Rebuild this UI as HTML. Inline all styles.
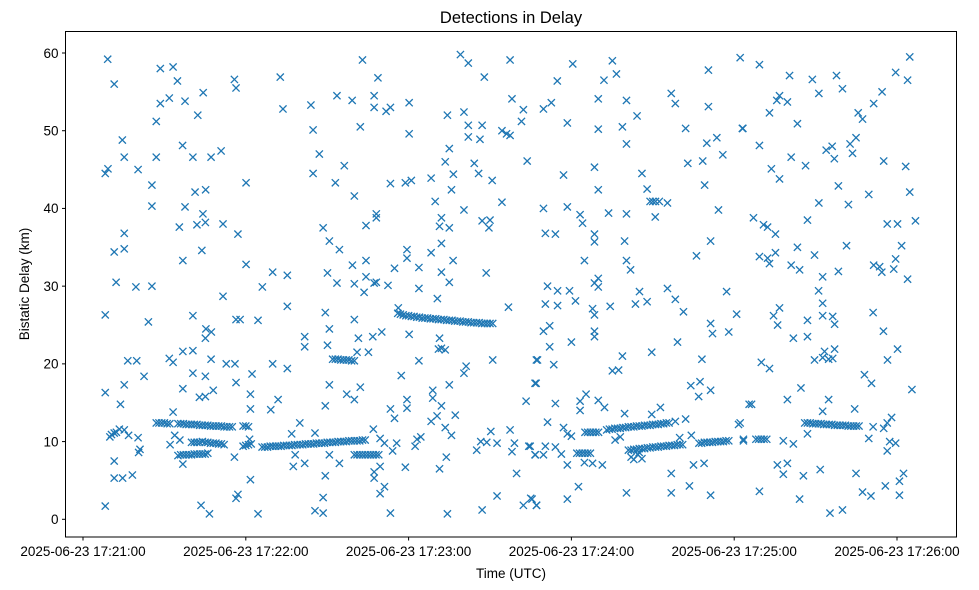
<!DOCTYPE html>
<html><head><meta charset="utf-8"><style>
html,body{margin:0;padding:0;background:#fff;}
svg{display:block;font-family:"Liberation Sans","DejaVu Sans",sans-serif;}
</style></head><body>
<svg id="chart" width="979" height="590" viewBox="0 0 979 590">
<rect x="0" y="0" width="979" height="590" fill="#fff"/>
<text x="511" y="23" font-size="16.5" text-anchor="middle" fill="#000">Detections in Delay</text>
<g id="marks"></g>
<g id="yaxis"></g>
<g id="xaxis"></g>
<rect x="65.5" y="31.5" width="891" height="505.5" fill="none" stroke="#000" stroke-width="1"/>
<text x="511" y="578" font-size="13.5" text-anchor="middle">Time (UTC)</text>
<text x="0" y="0" font-size="13.5" text-anchor="middle" transform="translate(29,284) rotate(-90)">Bistatic Delay (km)</text>
</svg>
<script>
const yTicks = [0,10,20,30,40,50,60];
const xTickSeconds = [0,60,120,180,240,300];
const xTickLabels = ["2025-06-23 17:21:00","2025-06-23 17:22:00","2025-06-23 17:23:00","2025-06-23 17:24:00","2025-06-23 17:25:00","2025-06-23 17:26:00"];
const scatterPoints = [
[9.1,59.2],[11.5,56.0],[28.5,58.0],[33.2,58.2],[34.8,56.4],[55.8,56.6],[56.4,55.5],[72.7,56.9],[73.7,52.8],[28.5,53.5],[31.8,54.2],[37.6,53.8],[44.3,54.9],[27.0,51.2],[42.3,52.0],[14.5,48.8],[15.2,46.6],[27.0,46.6],[36.7,48.1],[40.5,46.6],[47.2,46.6],[50.9,47.4],[8.2,44.5],[9.2,45.1],[20.3,45.0],[25.4,43.0],[25.4,40.3],[37.6,40.2],[41.3,42.1],[45.2,42.4],[60.1,43.3],[44.2,39.3],[45.1,38.2],[42.0,37.9],[35.5,37.6],[51.6,38.0],[57.1,36.7],[15.2,36.8],[11.5,34.4],[15.2,34.8],[43.8,34.6],[36.8,33.3],[60.1,32.8],[69.9,31.8],[75.3,31.4],[66.1,29.9],[12.2,30.5],[19.5,29.9],[25.4,30.0],[51.6,28.7],[75.3,27.4],[8.2,26.3],[24.1,25.4],[40.5,26.2],[56.4,25.7],[57.9,25.7],[64.5,25.6],[45.3,24.5],[47.3,24.1],[45.1,23.3],[16.5,20.4],[19.8,20.4],[31.8,20.7],[33.2,20.2],[36.8,21.6],[40.5,21.7],[47.2,20.6],[52.8,20.0],[56.0,20.0],[69.9,20.0],[75.3,19.4],[22.5,18.4],[15.2,17.3],[40.5,18.8],[45.1,18.4],[62.3,18.7],[8.2,16.3],[36.8,16.8],[42.9,15.7],[45.1,15.8],[48.0,16.6],[56.4,17.6],[61.7,16.1],[13.8,14.8],[61.7,14.2],[69.2,14.1],[71.9,15.4],[33.2,13.8],[8.2,1.7],[43.5,1.8],[46.6,0.7],[56.4,2.7],[57.1,3.2],[64.5,0.7],[61.7,5.1],[11.5,7.5],[11.5,5.3],[14.6,5.3],[18.2,5.7],[36.8,7.1],[55.8,8.0],[20.5,8.6],[21.0,9.0],[77.5,6.8],[78.2,8.3],[9.9,10.6],[11.5,11.1],[13.4,11.6],[15.2,11.5],[16.8,10.8],[20.3,10.5],[33.8,10.8],[32.1,9.6],[35.7,10.2],[79.9,12.4],[76.9,11.0],[61.4,10.3],[59.0,9.4],[10.5,10.9],[12.3,11.2],
[103.0,59.1],[108.7,56.8],[84.0,53.3],[93.6,54.5],[99.2,53.9],[107.3,54.5],[107.3,53.0],[111.7,52.5],[113.3,53.0],[120.2,53.6],[102.2,50.5],[120.2,49.6],[84.8,50.1],[87.1,47.0],[84.8,44.5],[96.3,45.5],[93.0,43.3],[100.0,41.6],[108.1,39.3],[108.1,38.8],[104.3,37.8],[88.5,37.5],[90.8,35.8],[94.5,34.7],[99.3,32.7],[104.3,33.3],[90.1,31.7],[93.6,30.4],[100.0,30.3],[104.3,31.2],[103.6,29.2],[108.1,30.5],[107.3,30.4],[112.4,30.1],[114.8,32.3],[119.4,34.7],[119.4,33.6],[123.8,32.4],[123.8,29.7],[113.3,43.2],[118.8,43.3],[121.0,43.6],[128.3,43.9],[129.8,40.9],[132.1,38.8],[131.4,37.7],[135.0,37.5],[132.1,35.5],[128.3,34.3],[136.4,33.3],[132.1,31.8],[135.0,30.5],[130.6,28.4],[134.3,52.0],[135.0,47.7],[133.5,46.0],[136.5,44.4],[135.8,42.4],[140.4,52.4],[142.0,50.7],[142.0,49.2],[146.3,48.9],[147.1,50.7],[139.1,59.8],[142.0,58.7],[147.9,56.9],[157.4,59.1],[158.1,54.1],[162.3,52.7],[161.6,51.2],[154.4,50.0],[157.4,49.4],[156.1,49.6],[163.7,46.1],[144.2,45.8],[145.8,44.5],[150.8,43.6],[154.4,40.8],[140.4,39.8],[147.1,38.4],[150.0,38.5],[149.6,37.5],[148.6,31.7],[156.8,27.3],[81.7,23.5],[81.7,22.2],[89.3,26.6],[90.8,24.5],[90.1,22.4],[100.0,25.7],[101.5,23.3],[106.8,23.5],[110.1,24.1],[101.0,21.5],[105.2,21.5],[123.8,20.4],[120.2,23.8],[131.4,23.3],[132.1,22.0],[133.5,21.8],[151.0,20.5],[140.4,18.8],[141.2,19.7],[117.3,18.5],[90.8,17.3],[102.2,17.0],[97.2,16.1],[100.0,15.4],[89.3,14.6],[113.3,14.2],[114.8,13.0],[119.4,15.4],[119.4,14.3],[128.9,16.6],[128.9,15.6],[132.1,14.6],[130.5,13.3],[135.0,17.3],[137.2,13.4],[128.3,12.6],[133.5,11.8],[135.8,10.8],[167.0,17.5],[163.3,15.2],[167.1,20.5],[85.5,11.1],[107.0,11.6],[109.5,10.4],[90.8,8.3],[94.5,7.2],[81.7,7.2],[89.3,5.6],[107.3,6.1],[107.3,5.3],[109.5,6.8],[109.5,3.3],[111.1,4.2],[88.5,2.8],[85.5,1.1],[88.5,0.8],[113.3,0.8],[111.1,9.8],[114.1,8.8],[115.6,9.8],[118.8,6.7],[123.1,10.3],[122.4,9.4],[124.5,10.6],[133.9,8.0],[131.4,6.5],[134.3,0.7],[145.1,8.9],[146.6,10.0],[148.8,9.9],[150.3,11.3],[152.6,9.8],[157.4,11.5],[159.0,9.8],[158.1,8.7],[159.8,5.9],[164.3,9.4],[166.7,8.3],[152.6,3.0],[147.1,1.2],[162.3,1.8],[165.0,2.7],[167.1,1.8],[116.2,27.2],[131.0,21.9],
[180.5,58.6],[195.1,59.0],[196.6,57.3],[174.8,56.4],[192.0,56.5],[169.7,52.8],[172.6,53.6],[189.9,54.1],[200.3,53.9],[204.2,51.9],[178.5,51.0],[189.9,50.2],[198.8,50.5],[200.3,48.3],[216.8,54.8],[218.3,53.5],[230.5,57.8],[230.5,53.1],[242.2,59.4],[222.1,50.3],[243.0,50.3],[229.9,48.4],[233.6,49.1],[235.8,46.9],[222.9,45.8],[228.4,46.1],[229.1,43.0],[177.1,44.3],[188.5,45.3],[189.9,42.4],[206.0,44.5],[207.9,42.5],[209.0,40.9],[210.0,40.9],[211.0,40.9],[212.4,40.9],[215.4,40.7],[210.9,38.9],[169.7,40.0],[178.5,40.2],[183.2,39.2],[184.1,38.1],[193.7,39.4],[200.3,39.3],[234.2,39.8],[170.4,36.8],[174.1,36.7],[188.5,36.7],[188.5,35.7],[199.6,35.8],[231.3,35.8],[226.1,33.9],[184.8,33.3],[200.3,33.3],[201.8,32.1],[171.2,30.0],[174.9,29.4],[179.3,29.4],[181.5,28.1],[170.4,27.7],[174.9,27.5],[188.5,30.4],[189.9,31.0],[189.9,29.9],[187.8,27.1],[188.5,26.3],[194.3,27.4],[205.1,29.3],[203.6,27.7],[207.9,28.0],[215.4,29.7],[218.3,28.3],[221.3,26.7],[237.2,29.3],[240.9,26.4],[169.7,24.2],[172.0,24.9],[172.0,22.2],[180.0,22.8],[188.5,24.2],[188.5,23.5],[219.1,22.8],[231.3,25.2],[232.0,23.9],[238.0,24.1],[167.5,20.5],[173.5,19.9],[166.6,17.5],[198.8,21.0],[195.1,19.1],[197.4,19.2],[209.6,21.5],[228.1,20.6],[224.0,17.2],[227.4,17.7],[231.3,16.6],[226.9,15.8],[174.1,14.9],[183.2,15.2],[185.4,16.1],[183.2,14.0],[189.9,15.3],[192.2,14.4],[199.6,13.6],[209.6,13.5],[212.8,14.4],[245.5,14.8],[171.2,12.5],[177.1,11.8],[178.5,11.0],[180.0,10.7],[218.3,12.6],[222.1,12.9],[219.9,10.5],[224.2,10.8],[241.6,12.2],[243.4,10.3],[196.1,10.2],[198.0,10.6],[164.8,9.4],[170.4,9.4],[174.1,9.3],[176.3,8.4],[166.6,8.3],[169.7,8.3],[178.5,7.0],[184.8,7.3],[187.8,7.2],[191.4,7.0],[225.0,7.0],[228.9,7.2],[216.8,5.9],[182.6,4.2],[178.5,2.6],[200.3,3.4],[216.8,3.4],[223.5,4.3],[231.3,3.1],[167.2,1.8],[165.5,2.6],[202.0,8.0],[203.0,7.7],[204.5,8.3],[206.0,7.8],[205.0,8.6],
[249.3,58.5],[260.4,57.1],[268.8,56.6],[271.2,54.8],[277.7,57.1],[279.9,55.4],[255.7,53.9],[256.7,54.5],[259.6,53.7],[253.0,52.3],[263.3,50.9],[243.2,50.3],[249.3,48.1],[261.0,46.6],[253.7,45.1],[256.7,43.8],[266.3,45.5],[285.7,52.3],[287.3,51.5],[291.4,53.5],[294.5,55.0],[299.5,57.5],[303.9,56.5],[304.7,59.5],[273.9,47.5],[276.1,48.0],[276.9,46.4],[282.7,48.3],[284.9,49.1],[283.6,47.1],[295.1,46.1],[303.2,45.4],[304.7,42.1],[289.6,41.8],[278.4,42.9],[282.1,40.5],[271.2,40.7],[267.0,38.5],[247.1,38.8],[250.8,37.9],[252.3,37.6],[255.2,36.7],[296.4,38.0],[300.2,38.0],[306.8,38.4],[301.7,35.2],[249.3,33.8],[252.3,33.6],[253.0,32.9],[255.2,34.3],[263.3,35.0],[261.0,32.7],[264.1,32.1],[269.6,34.0],[272.6,31.2],[278.4,31.9],[281.4,35.2],[291.4,32.7],[293.6,32.5],[294.4,31.8],[298.8,32.2],[299.5,33.5],[303.9,30.9],[271.1,29.4],[272.6,27.8],[272.6,26.2],[276.3,26.1],[277.0,25.1],[256.7,27.2],[254.5,26.2],[256.0,25.0],[267.0,25.6],[261.8,23.3],[267.0,23.5],[291.2,26.6],[295.0,24.2],[300.2,21.9],[296.5,20.5],[269.6,20.5],[272.6,20.8],[273.3,21.6],[274.8,20.6],[277.0,21.9],[276.3,20.7],[250.0,20.2],[253.0,19.4],[288.0,18.6],[290.6,17.5],[305.5,16.7],[246.4,14.8],[259.6,15.4],[264.6,16.9],[274.8,15.4],[284.4,14.2],[272.6,13.9],[242.2,12.4],[243.4,10.1],[258.1,10.1],[261.8,9.7],[267.0,11.0],[289.6,10.4],[291.2,11.9],[295.1,11.7],[296.4,12.4],[298.0,13.1],[296.4,8.8],[297.3,10.0],[299.5,9.8],[255.9,7.0],[259.6,7.2],[258.1,5.8],[265.5,5.6],[271.7,6.4],[284.9,5.9],[295.7,4.3],[300.9,4.9],[302.4,5.9],[249.3,3.6],[264.1,2.6],[287.3,3.5],[290.4,3.0],[300.9,3.1],[275.3,0.8],[279.9,1.2]
];
const bandPoints = [
[27,12.4],[28,12.4],[29,12.4],[30,12.4],[31,12.3],[32,12.3],[35,12.3],[36,12.3],[37,12.3],[38,12.2],[39,12.2],[40,12.2],[41,12.2],[42,12.2],[43,12.1],[44,12.1],[45,12.1],[46,12.1],[47,12.0],[48,12.0],[49,12.0],[50,12.0],[51,12.0],[52,11.9],[53,11.9],[54,11.9],[55,11.9],[59,12.0],[60,12.0],[61,11.9],
[40,9.9],[41,9.9],[42,9.9],[43,9.9],[44,10.0],[45,9.9],[46,9.9],[47,9.8],[48,9.8],[49,9.8],[50,9.7],[51,9.7],[52,9.6],
[35,8.2],[36,8.3],[37,8.3],[38,8.3],[39,8.3],[40,8.3],[41,8.4],[42,8.4],[43,8.4],[44,8.4],[45,8.4],[46,8.5],
[60,9.5],[61,9.6],[62,9.7],
[66,9.3],[67,9.3],[68,9.3],[69,9.4],[70,9.4],[71,9.4],[72,9.4],[73,9.4],[74,9.5],[75,9.5],[76,9.5],[77,9.5],[78,9.6],[79,9.6],[80,9.6],[81,9.6],[82,9.7],[83,9.7],[84,9.7],[85,9.7],[86,9.8],[87,9.8],[88,9.8],[89,9.8],[90,9.9],[91,9.9],[92,9.9],[93,9.9],[94,10.0],[95,10.0],[96,10.0],[97,10.0],[98,10.1],[99,10.1],[100,10.1],[101,10.1],[102,10.1],[103,10.2],[104,10.2],
[92,20.6],[93,20.6],[94,20.6],[95,20.5],[96,20.5],[97,20.5],[98,20.5],[99,20.4],[100,20.4],
[100,8.3],[101,8.3],[102,8.3],[103,8.3],[104,8.3],[105,8.3],[106,8.3],[107,8.3],[108,8.3],[109,8.3],
[116,26.5],[117,26.4],[118,26.3],[119,26.2],[120,26.2],[121,26.1],[122,26.1],[123,26.0],[124,26.0],[125,25.9],[126,25.9],[127,25.9],[128,25.8],[129,25.8],[130,25.8],[131,25.7],[132,25.7],[133,25.7],[134,25.6],[135,25.6],[136,25.6],[137,25.5],[138,25.5],[139,25.5],[140,25.4],[141,25.4],[142,25.4],[143,25.3],[144,25.3],[145,25.3],[146,25.3],[147,25.2],[148,25.2],[149,25.2],[150,25.2],[151,25.2],
[182,8.5],[183,8.5],[184,8.5],[185,8.5],[186,8.5],[187,8.5],
[185,11.2],[186,11.2],[187,11.2],[188,11.2],[189,11.2],[190,11.2],
[193,11.5],[194,11.6],[195,11.6],[196,11.7],[197,11.7],[198,11.7],[199,11.8],[200,11.8],[201,11.9],[202,11.9],[203,11.9],[204,12.0],[205,12.0],[206,12.0],[207,12.1],[208,12.1],[209,12.1],[210,12.2],[211,12.2],[212,12.2],[213,12.3],[214,12.3],[215,12.4],[216,12.4],
[201,8.9],[202,8.9],[203,9.0],[204,9.0],[205,9.1],[206,9.1],[207,9.1],[208,9.2],[209,9.2],[210,9.3],[211,9.3],[212,9.3],[213,9.4],[214,9.4],[215,9.4],[216,9.5],[217,9.5],[218,9.5],[219,9.6],[220,9.6],[221,9.6],
[227,9.8],[228,9.8],[229,9.9],[230,9.9],[231,9.9],[232,9.9],[233,10.0],[234,10.0],[235,10.0],[236,10.0],[237,10.1],[238,10.1],
[248,10.3],[249,10.3],[250,10.3],[251,10.3],[252,10.3],
[266,12.4],[267,12.4],[268,12.4],[269,12.3],[270,12.3],[271,12.3],[272,12.3],[273,12.2],[274,12.2],[275,12.2],[276,12.2],[277,12.1],[278,12.1],[279,12.1],[280,12.1],[281,12.1],[282,12.0],[283,12.0],[284,12.0],[285,12.0],[286,12.0]
];

const NS = "http://www.w3.org/2000/svg";
const plotLeft = 65.5, plotBottom = 537;
function xScale(t){ return 83 + t * (814/300); }
function yScale(km){ return 519.3 - km * (466.3/60); }

const marks = document.getElementById('marks');
function drawX(p){
  const cx = xScale(p[0]), cy = yScale(p[1]), r = 3.6;
  const path = document.createElementNS(NS,'path');
  path.setAttribute('d', `M${cx-r},${cy-r}L${cx+r},${cy+r}M${cx-r},${cy+r}L${cx+r},${cy-r}`);
  path.setAttribute('stroke','#1f77b4');
  path.setAttribute('stroke-width','1.3');
  path.setAttribute('fill','none');
  
  
  marks.appendChild(path);
}
scatterPoints.forEach(drawX);
bandPoints.forEach(drawX);

const yaxis = document.getElementById('yaxis');
yTicks.forEach(v => {
  const y = yScale(v);
  const ln = document.createElementNS(NS,'line');
  ln.setAttribute('x1', plotLeft-3.5); ln.setAttribute('x2', plotLeft);
  ln.setAttribute('y1', y); ln.setAttribute('y2', y);
  ln.setAttribute('stroke','#000');
  
  
  yaxis.appendChild(ln);
  const tx = document.createElementNS(NS,'text');
  tx.setAttribute('x', plotLeft-7); tx.setAttribute('y', y+4.8);
  tx.setAttribute('font-size','13.5'); tx.setAttribute('text-anchor','end');
  tx.textContent = v;
  
  
  yaxis.appendChild(tx);
});
const xaxis = document.getElementById('xaxis');
xTickSeconds.forEach((s,i) => {
  const x = xScale(s);
  const ln = document.createElementNS(NS,'line');
  ln.setAttribute('x1', x); ln.setAttribute('x2', x);
  ln.setAttribute('y1', plotBottom); ln.setAttribute('y2', plotBottom+3.5);
  ln.setAttribute('stroke','#000');
  
  
  xaxis.appendChild(ln);
  const tx = document.createElementNS(NS,'text');
  tx.setAttribute('x', x); tx.setAttribute('y', plotBottom+19);
  tx.setAttribute('font-size','13.5'); tx.setAttribute('text-anchor','middle');
  tx.textContent = xTickLabels[i];
  
  
  xaxis.appendChild(tx);
});
</script>
</body></html>
